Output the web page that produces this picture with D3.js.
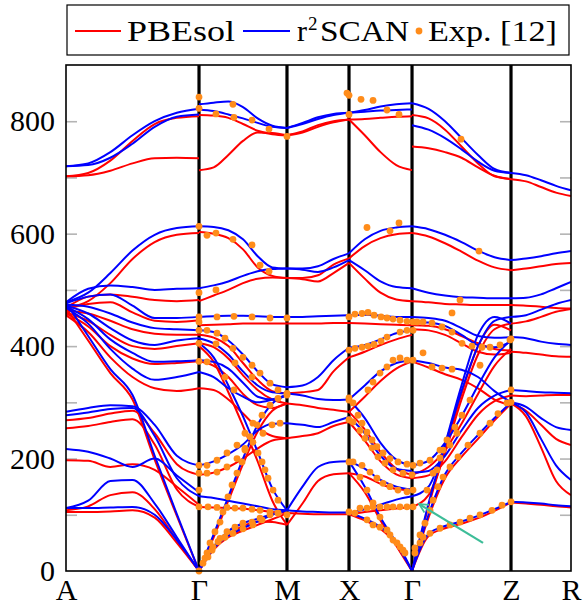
<!DOCTYPE html>
<html>
<head>
<meta charset="utf-8">
<script src="https://cdn.jsdelivr.net/npm/d3@7"></script>
<style>
  html, body { margin: 0; padding: 0; background: #fff; }
  svg { display: block; }
</style>
</head>
<body>
<svg id="chart" width="585" height="612"></svg>
<script>
// High-symmetry points along the Brillouin-zone path (path coordinate) and their labels
const kTicks  = [0, 1.317, 2.188, 2.802, 3.426, 4.406, 5.0];
const kLabels = ["A", "Γ", "M", "X", "Γ", "Z", "R"];
const yTickLabels = [0, 200, 400, 600, 800];
const yMinorTicks = [100, 200, 300, 400, 500, 600, 700, 800];

// Phonon branches (cm^-1), sampled evenly along each path segment.
// A – Γ
const pbesolAG = [
  [702, 708, 730, 765, 795, 806, 809],
  [702, 704, 712, 725, 734, 735, 734],
  [468, 480, 512, 555, 585, 598, 601],
  [468, 488, 492, 488, 482, 480, 482],
  [466, 475, 478, 460, 445, 443, 446],
  [463, 458, 445, 430, 422, 420, 420],
  [460, 445, 420, 400, 395, 400, 405],
  [458, 435, 400, 378, 368, 370, 373],
  [455, 425, 380, 345, 325, 320, 325],
  [468, 410, 352, 305, 198, 98, 0],
  [268, 272, 280, 285, 245, 190, 171],
  [254, 258, 265, 270, 225, 145, 114],
  [197, 196, 185, 190, 180, 150, 118],
  [108, 115, 135, 140, 110, 55, 0],
  [105, 105, 106, 108, 95, 50, 0]
];
const r2scanAG = [
  [720, 725, 745, 775, 800, 815, 822],
  [720, 722, 735, 760, 790, 808, 812],
  [478, 495, 530, 570, 598, 610, 613],
  [478, 502, 508, 505, 500, 502, 503],
  [476, 488, 492, 472, 450, 450, 452],
  [474, 470, 458, 442, 432, 430, 428],
  [472, 458, 432, 410, 402, 410, 414],
  [470, 448, 412, 388, 372, 373, 375],
  [468, 440, 395, 360, 340, 345, 354],
  [477, 418, 359, 313, 205, 101, 0],
  [283, 290, 295, 293, 260, 205, 188],
  [277, 282, 288, 290, 240, 165, 133],
  [217, 212, 200, 185, 200, 170, 140],
  [112, 125, 160, 162, 120, 60, 0],
  [112, 112, 113, 114, 100, 55, 0]
];
// Γ – M
const pbesolGM = [
  [811, 810, 806, 795, 783, 777, 775],
  [713, 718, 740, 765, 780, 779, 775],
  [603, 600, 592, 572, 540, 525, 521],
  [480, 490, 500, 512, 520, 522, 521],
  [437, 438, 439, 440, 440, 440, 440],
  [420, 415, 400, 370, 340, 320, 316],
  [405, 398, 378, 348, 322, 305, 298],
  [373, 365, 345, 315, 295, 290, 298],
  [325, 322, 305, 280, 255, 240, 236],
  [400, 372, 318, 258, 195, 125, 82],
  [171, 175, 185, 200, 218, 232, 236],
  [114, 113, 112, 111, 108, 105, 103],
  [0, 60, 125, 190, 248, 285, 298],
  [0, 40, 65, 80, 88, 87, 82],
  [0, 38, 60, 72, 82, 92, 103]
];
const r2scanGM = [
  [830, 833, 835, 825, 805, 792, 788],
  [821, 818, 812, 805, 797, 790, 788],
  [613, 612, 606, 590, 560, 540, 538],
  [503, 508, 515, 525, 533, 537, 538],
  [452, 453, 454, 454, 453, 452, 452],
  [428, 425, 410, 385, 355, 332, 327],
  [414, 405, 385, 355, 330, 318, 316],
  [375, 372, 360, 335, 310, 305, 313],
  [354, 345, 325, 310, 300, 305, 313],
  [405, 380, 330, 275, 212, 147, 108],
  [188, 195, 208, 225, 250, 262, 263],
  [133, 130, 125, 120, 115, 110, 108],
  [0, 65, 132, 200, 260, 298, 313],
  [0, 44, 71, 85, 93, 101, 108],
  [0, 40, 63, 76, 88, 100, 108]
];
// M – X
const pbesolMX = [
  [775, 782, 793, 800, 803],
  [775, 780, 790, 798, 803],
  [521, 521, 526, 545, 556],
  [521, 519, 515, 530, 548],
  [440, 440, 440, 441, 441],
  [316, 318, 322, 355, 380],
  [298, 295, 290, 287, 283],
  [236, 240, 245, 258, 265],
  [82, 120, 160, 172, 174],
  [103, 102, 101, 101, 101]
];
const r2scanMX = [
  [788, 797, 807, 813, 815],
  [788, 795, 804, 811, 815],
  [538, 538, 542, 555, 565],
  [538, 536, 532, 540, 553],
  [452, 452, 453, 454, 455],
  [327, 330, 345, 375, 397],
  [316, 312, 306, 304, 305],
  [263, 260, 256, 265, 274],
  [108, 150, 185, 194, 195],
  [108, 106, 105, 104, 104]
];
// X – Γ
const pbesolXG = [
  [803, 804, 806, 808, 809],
  [803, 775, 745, 722, 713],
  [556, 578, 592, 599, 601],
  [548, 520, 495, 483, 480],
  [441, 440, 439, 438, 437],
  [380, 390, 402, 412, 420],
  [283, 310, 338, 360, 373],
  [283, 252, 212, 182, 171],
  [265, 232, 195, 172, 165],
  [174, 168, 155, 146, 144],
  [174, 140, 90, 45, 0],
  [101, 90, 75, 48, 0],
  [101, 105, 108, 111, 114]
];
const r2scanXG = [
  [815, 820, 826, 830, 832],
  [815, 817, 819, 820, 821],
  [565, 590, 605, 611, 613],
  [553, 535, 515, 505, 503],
  [455, 456, 454, 452, 452],
  [397, 402, 412, 423, 428],
  [305, 330, 355, 370, 375],
  [305, 272, 228, 198, 188],
  [274, 245, 205, 182, 178],
  [195, 182, 162, 150, 145],
  [195, 150, 95, 50, 0],
  [104, 93, 78, 52, 0],
  [104, 110, 118, 127, 133]
];
// Γ – Z
const pbesolGZ = [
  [811, 805, 785, 755, 725, 702, 697],
  [755, 752, 745, 735, 718, 703, 697],
  [601, 595, 583, 568, 552, 540, 535],
  [480, 478, 475, 474, 473, 473, 473],
  [437, 436, 430, 418, 405, 395, 392],
  [430, 428, 420, 405, 390, 385, 388],
  [373, 362, 350, 340, 325, 305, 295],
  [171, 185, 215, 262, 315, 365, 395],
  [165, 170, 195, 238, 278, 302, 312],
  [114, 135, 210, 305, 385, 430, 440],
  [0, 115, 215, 315, 400, 438, 428],
  [0, 95, 165, 203, 235, 268, 298],
  [0, 62, 76, 84, 94, 107, 122]
];
const r2scanGZ = [
  [832, 822, 800, 770, 740, 715, 708],
  [793, 785, 770, 750, 728, 712, 708],
  [613, 608, 598, 585, 570, 558, 553],
  [503, 495, 490, 487, 486, 485, 485],
  [452, 450, 445, 432, 418, 415, 416],
  [443, 442, 436, 420, 402, 398, 408],
  [375, 370, 362, 358, 345, 320, 300],
  [188, 196, 228, 275, 330, 380, 411],
  [175, 178, 205, 250, 290, 312, 322],
  [133, 150, 225, 320, 400, 445, 452],
  [0, 120, 225, 330, 420, 452, 440],
  [0, 100, 172, 210, 242, 272, 300],
  [0, 66, 80, 88, 98, 110, 123]
];
// Z – R
const pbesolZR = [
  [697, 693, 683, 673, 667],
  [535, 538, 542, 546, 548],
  [473, 472, 470, 468, 467],
  [440, 444, 452, 461, 466],
  [390, 388, 385, 382, 381],
  [312, 311, 312, 313, 313],
  [298, 285, 260, 235, 224],
  [298, 275, 220, 160, 135],
  [122, 120, 118, 115, 113]
];
const r2scanZR = [
  [708, 704, 695, 685, 677],
  [553, 556, 560, 565, 569],
  [485, 486, 492, 503, 514],
  [452, 455, 465, 475, 482],
  [416, 414, 408, 404, 402],
  [322, 320, 318, 317, 316],
  [300, 292, 272, 256, 251],
  [300, 282, 235, 188, 162],
  [123, 122, 120, 117, 115]
];

// Experimental points [path coordinate, frequency]
const expPoints = [
  // Γ
  [1.317, 843], [1.317, 823], [1.317, 613], [1.317, 495], [1.317, 452], [1.317, 443],
  [1.317, 428], [1.317, 405], [1.317, 373], [1.317, 188], [1.317, 174], [1.317, 144],
  [1.317, 114], [1.317, 0],
  // Γ – M
  [1.485, 813], [1.653, 830], [1.663, 807], [1.842, 802], [2.010, 786], [2.188, 773],
  [1.396, 597], [1.485, 601], [1.653, 590], [1.842, 580], [1.921, 544], [2.010, 533],
  [1.485, 500],
  [1.495, 452], [1.663, 453], [1.842, 452], [2.020, 450], [2.188, 450],
  [1.396, 428], [1.495, 423], [1.574, 414], [1.653, 396], [1.752, 380], [1.842, 366],
  [1.921, 352], [2.020, 334], [2.099, 322], [2.188, 316],
  [1.396, 372], [1.485, 404], [1.673, 370], [1.842, 345],
  [1.574, 345], [1.663, 322], [1.901, 210], [1.941, 194], [1.970, 180], [2.000, 165],
  [2.050, 144], [2.099, 126],
  [1.356, 14], [1.396, 32], [1.426, 50], [1.475, 70], [1.525, 87], [1.554, 105],
  [1.604, 132], [1.644, 153], [1.693, 174], [1.743, 194], [1.772, 218], [1.822, 239],
  [1.891, 260], [1.941, 277], [2.020, 295], [2.099, 307], [2.188, 313],
  [1.406, 25], [1.455, 43], [1.525, 58], [1.594, 70], [1.673, 78], [1.752, 85],
  [1.842, 87], [1.921, 94], [2.020, 100], [2.099, 103], [2.188, 100],
  [1.376, 23], [1.446, 37], [1.505, 52], [1.574, 60], [1.653, 67], [1.752, 75],
  [1.851, 82], [1.941, 91],
  [1.406, 114], [1.495, 113], [1.594, 113], [1.673, 112], [1.752, 112], [1.842, 110],
  [1.921, 108], [2.020, 105], [2.099, 103],
  [1.396, 188], [1.495, 197], [1.594, 210], [1.693, 224], [1.772, 245], [1.851, 263],
  [1.396, 174], [1.495, 176], [1.594, 185], [1.693, 200], [1.772, 215], [1.851, 229],
  [1.950, 245], [2.040, 260], [2.119, 263],
  // X
  [2.782, 850], [2.802, 846], [2.802, 812], [2.802, 452], [2.802, 393], [2.802, 308],
  [2.802, 304], [2.802, 269], [2.802, 194], [2.802, 105],
  // X – Γ
  [2.921, 839], [3.040, 837], [3.178, 820], [3.297, 812],
  [2.980, 611], [3.208, 605], [3.297, 619],
  [2.861, 457], [2.931, 458], [2.990, 460], [3.050, 455], [3.119, 452], [3.178, 450],
  [3.238, 448], [3.307, 446], [3.376, 444], [3.436, 443],
  [2.861, 396], [2.931, 398], [2.990, 400], [3.050, 403], [3.119, 409], [3.178, 416],
  [3.307, 425], [3.376, 428], [3.436, 428],
  [2.990, 322], [3.040, 336], [3.109, 352], [3.178, 363], [3.238, 375], [3.307, 379],
  [3.376, 375], [3.436, 375],
  [2.842, 299], [2.891, 277], [2.931, 263], [2.980, 247], [3.030, 233], [3.079, 221],
  [3.139, 210], [3.208, 200], [3.287, 194], [3.376, 190], [3.436, 188],
  [2.842, 265], [2.911, 250], [2.960, 236], [3.030, 219], [3.089, 203], [3.158, 192],
  [3.238, 180], [3.337, 174], [3.426, 171],
  [2.842, 194], [2.931, 188], [3.010, 176], [3.079, 165], [3.139, 156], [3.208, 150],
  [3.287, 144], [3.376, 141], [3.436, 144],
  [2.911, 167], [2.980, 144], [3.040, 121], [3.109, 96], [3.178, 73], [3.238, 55],
  [3.307, 43], [3.356, 32],
  [2.861, 103], [2.980, 91], [3.040, 82], [3.109, 78], [3.208, 64], [3.277, 50], [3.337, 37],
  [2.911, 112], [2.980, 112], [3.040, 114], [3.109, 114], [3.178, 114], [3.238, 114],
  [3.307, 114], [3.376, 114], [3.436, 114],
  // Γ – Z
  [3.455, 32], [3.505, 50], [3.535, 60], [3.604, 67], [3.703, 76], [3.802, 82],
  [3.901, 87], [4.000, 94], [4.099, 100], [4.218, 108], [4.317, 117], [4.406, 123],
  [3.455, 41], [3.505, 64], [3.554, 85], [3.604, 108], [3.634, 126], [3.683, 150],
  [3.733, 167], [3.802, 185], [3.881, 203], [3.980, 224], [4.099, 245], [4.198, 263],
  [4.277, 280], [4.366, 299],
  [3.505, 192], [3.604, 197], [3.703, 215], [3.772, 233], [3.851, 256], [3.921, 277],
  [4.000, 304],
  [3.673, 180], [3.802, 224], [3.871, 245],
  [3.574, 144], [3.634, 174], [3.703, 201], [3.733, 215],
  [3.901, 482], [3.822, 459], [4.099, 366], [4.198, 398], [4.297, 402], [4.396, 411],
  [3.475, 443], [3.535, 443], [3.624, 441], [3.723, 434], [3.822, 425], [3.921, 405],
  [4.020, 400], [4.119, 398],
  [3.535, 388], [3.624, 363], [3.723, 361], [3.822, 359],
  [3.911, 768], [4.089, 569],
  // Z
  [4.406, 322], [4.406, 300], [4.406, 413]
];

// Annotation arrow [path coordinate, frequency]: tail and head
const arrowTail = [4.129, 50];
const arrowHead = [3.497, 119];

const series = [
  { name: "PBEsol", color: "#ff0000", segments: [pbesolAG, pbesolGM, pbesolMX, pbesolXG, pbesolGZ, pbesolZR] },
  { name: "r2SCAN", color: "#0000ff", segments: [r2scanAG, r2scanGM, r2scanMX, r2scanXG, r2scanGZ, r2scanZR] }
];

(function draw() {
  const svg = d3.select("#chart");
  const pL = 66, pR = 571, pT = 65, pB = 571;
  const x = d3.scaleLinear().domain([0, 5]).range([pL, pR]);
  const y = d3.scaleLinear().domain([0, 900]).range([pB, pT]);
  const serif = "'Liberation Serif', 'DejaVu Serif', serif";
  const defs = svg.append("defs");

  defs.append("clipPath").attr("id", "plot-clip")
    .append("rect").attr("x", pL).attr("y", pT)
    .attr("width", pR - pL).attr("height", pB - pT);

  // minor tick marks on both sides, pointing inward
  svg.append("g").attr("transform", `translate(${pL},0)`)
    .call(d3.axisLeft(y).tickValues(yMinorTicks).tickSize(-11).tickFormat(""))
    .call(g => g.select(".domain").remove())
    .call(g => g.selectAll("line").attr("stroke", "#b4b4b4").attr("stroke-width", 1.6));
  svg.append("g").attr("transform", `translate(${pR},0)`)
    .call(d3.axisRight(y).tickValues(yMinorTicks).tickSize(-11).tickFormat(""))
    .call(g => g.select(".domain").remove())
    .call(g => g.selectAll("line").attr("stroke", "#b4b4b4").attr("stroke-width", 1.6));

  // high-symmetry separators
  svg.append("g").selectAll("line")
    .data(kTicks.slice(1, -1))
    .join("line")
    .attr("x1", d => x(d)).attr("x2", d => x(d))
    .attr("y1", pT).attr("y2", pB)
    .attr("stroke", "#000").attr("stroke-width", 3.2);

  // branches
  const line = d3.line()
    .x(d => x(d[0])).y(d => y(d[1]))
    .curve(d3.curveMonotoneX);

  const plot = svg.append("g").attr("clip-path", "url(#plot-clip)");
  series.forEach(s => {
    const g = plot.append("g").attr("class", s.name);
    s.segments.forEach((bands, si) => {
      const k0 = kTicks[si], k1 = kTicks[si + 1];
      bands.forEach(vals => {
        const pts = vals.map((v, i) => [k0 + (k1 - k0) * i / (vals.length - 1), v]);
        g.append("path").attr("d", line(pts))
          .attr("fill", "none").attr("stroke", s.color)
          .attr("stroke-width", 2).attr("stroke-linejoin", "round");
      });
    });
  });

  // experimental data
  svg.append("g").selectAll("circle")
    .data(expPoints)
    .join("circle")
    .attr("cx", d => x(d[0])).attr("cy", d => y(d[1]))
    .attr("r", 3.4).attr("fill", "#ff8c1a");

  // annotation arrow
  const arrowColor = "#3dbd98";
  defs.append("marker")
    .attr("id", "arrowhead").attr("viewBox", "0 0 10 10")
    .attr("refX", 9).attr("refY", 5)
    .attr("markerWidth", 5).attr("markerHeight", 5)
    .attr("orient", "auto")
    .append("path").attr("d", "M1,1 L9,5 L1,9")
    .attr("fill", "none").attr("stroke", arrowColor).attr("stroke-width", 1.6);
  svg.append("line")
    .attr("x1", x(arrowTail[0])).attr("y1", y(arrowTail[1]))
    .attr("x2", x(arrowHead[0])).attr("y2", y(arrowHead[1]))
    .attr("stroke", arrowColor).attr("stroke-width", 2.2)
    .attr("marker-end", "url(#arrowhead)");

  // frame
  svg.append("rect")
    .attr("x", pL).attr("y", pT).attr("width", pR - pL).attr("height", pB - pT)
    .attr("fill", "none").attr("stroke", "#000").attr("stroke-width", 1.6);

  // y tick labels
  svg.append("g").attr("transform", `translate(${pL},0)`)
    .call(d3.axisLeft(y).tickValues(yTickLabels).tickSize(0).tickPadding(11))
    .call(g => g.select(".domain").remove())
    .call(g => g.selectAll("text").attr("font-family", serif).attr("font-size", 30).attr("fill", "#000"));

  // x tick labels
  svg.append("g").attr("transform", `translate(0,${pB})`)
    .call(d3.axisBottom(x).tickValues(kTicks).tickFormat((d, i) => kLabels[i]).tickSize(0).tickPadding(8))
    .call(g => g.select(".domain").remove())
    .call(g => g.selectAll("text").attr("font-family", serif).attr("font-size", 30).attr("fill", "#000"));

  // legend
  const legend = svg.append("g").attr("font-family", serif).attr("font-size", 30);
  legend.append("rect").attr("x", 67).attr("y", 5).attr("width", 502).attr("height", 50)
    .attr("fill", "#fff").attr("stroke", "#000").attr("stroke-width", 1.2);
  const ly = 31;
  legend.append("line").attr("x1", 75).attr("x2", 121).attr("y1", ly).attr("y2", ly)
    .attr("stroke", "#ff0000").attr("stroke-width", 2);
  legend.append("text").attr("x", 127).attr("y", ly + 10)
    .attr("textLength", 108).attr("lengthAdjust", "spacingAndGlyphs").text("PBEsol");
  legend.append("line").attr("x1", 243).attr("x2", 290).attr("y1", ly).attr("y2", ly)
    .attr("stroke", "#0000ff").attr("stroke-width", 2);
  legend.append("text").attr("x", 297).attr("y", ly + 10).text("r");
  legend.append("text").attr("x", 308).attr("y", ly - 1).attr("font-size", 19).text("2");
  legend.append("text").attr("x", 320).attr("y", ly + 10)
    .attr("textLength", 89).attr("lengthAdjust", "spacingAndGlyphs").text("SCAN");
  legend.append("circle").attr("cx", 419).attr("cy", ly).attr("r", 3.4).attr("fill", "#ff8c1a");
  legend.append("text").attr("x", 428).attr("y", ly + 10)
    .attr("textLength", 129).attr("lengthAdjust", "spacingAndGlyphs").text("Exp. [12]");
})();
</script>
</body>
</html>
